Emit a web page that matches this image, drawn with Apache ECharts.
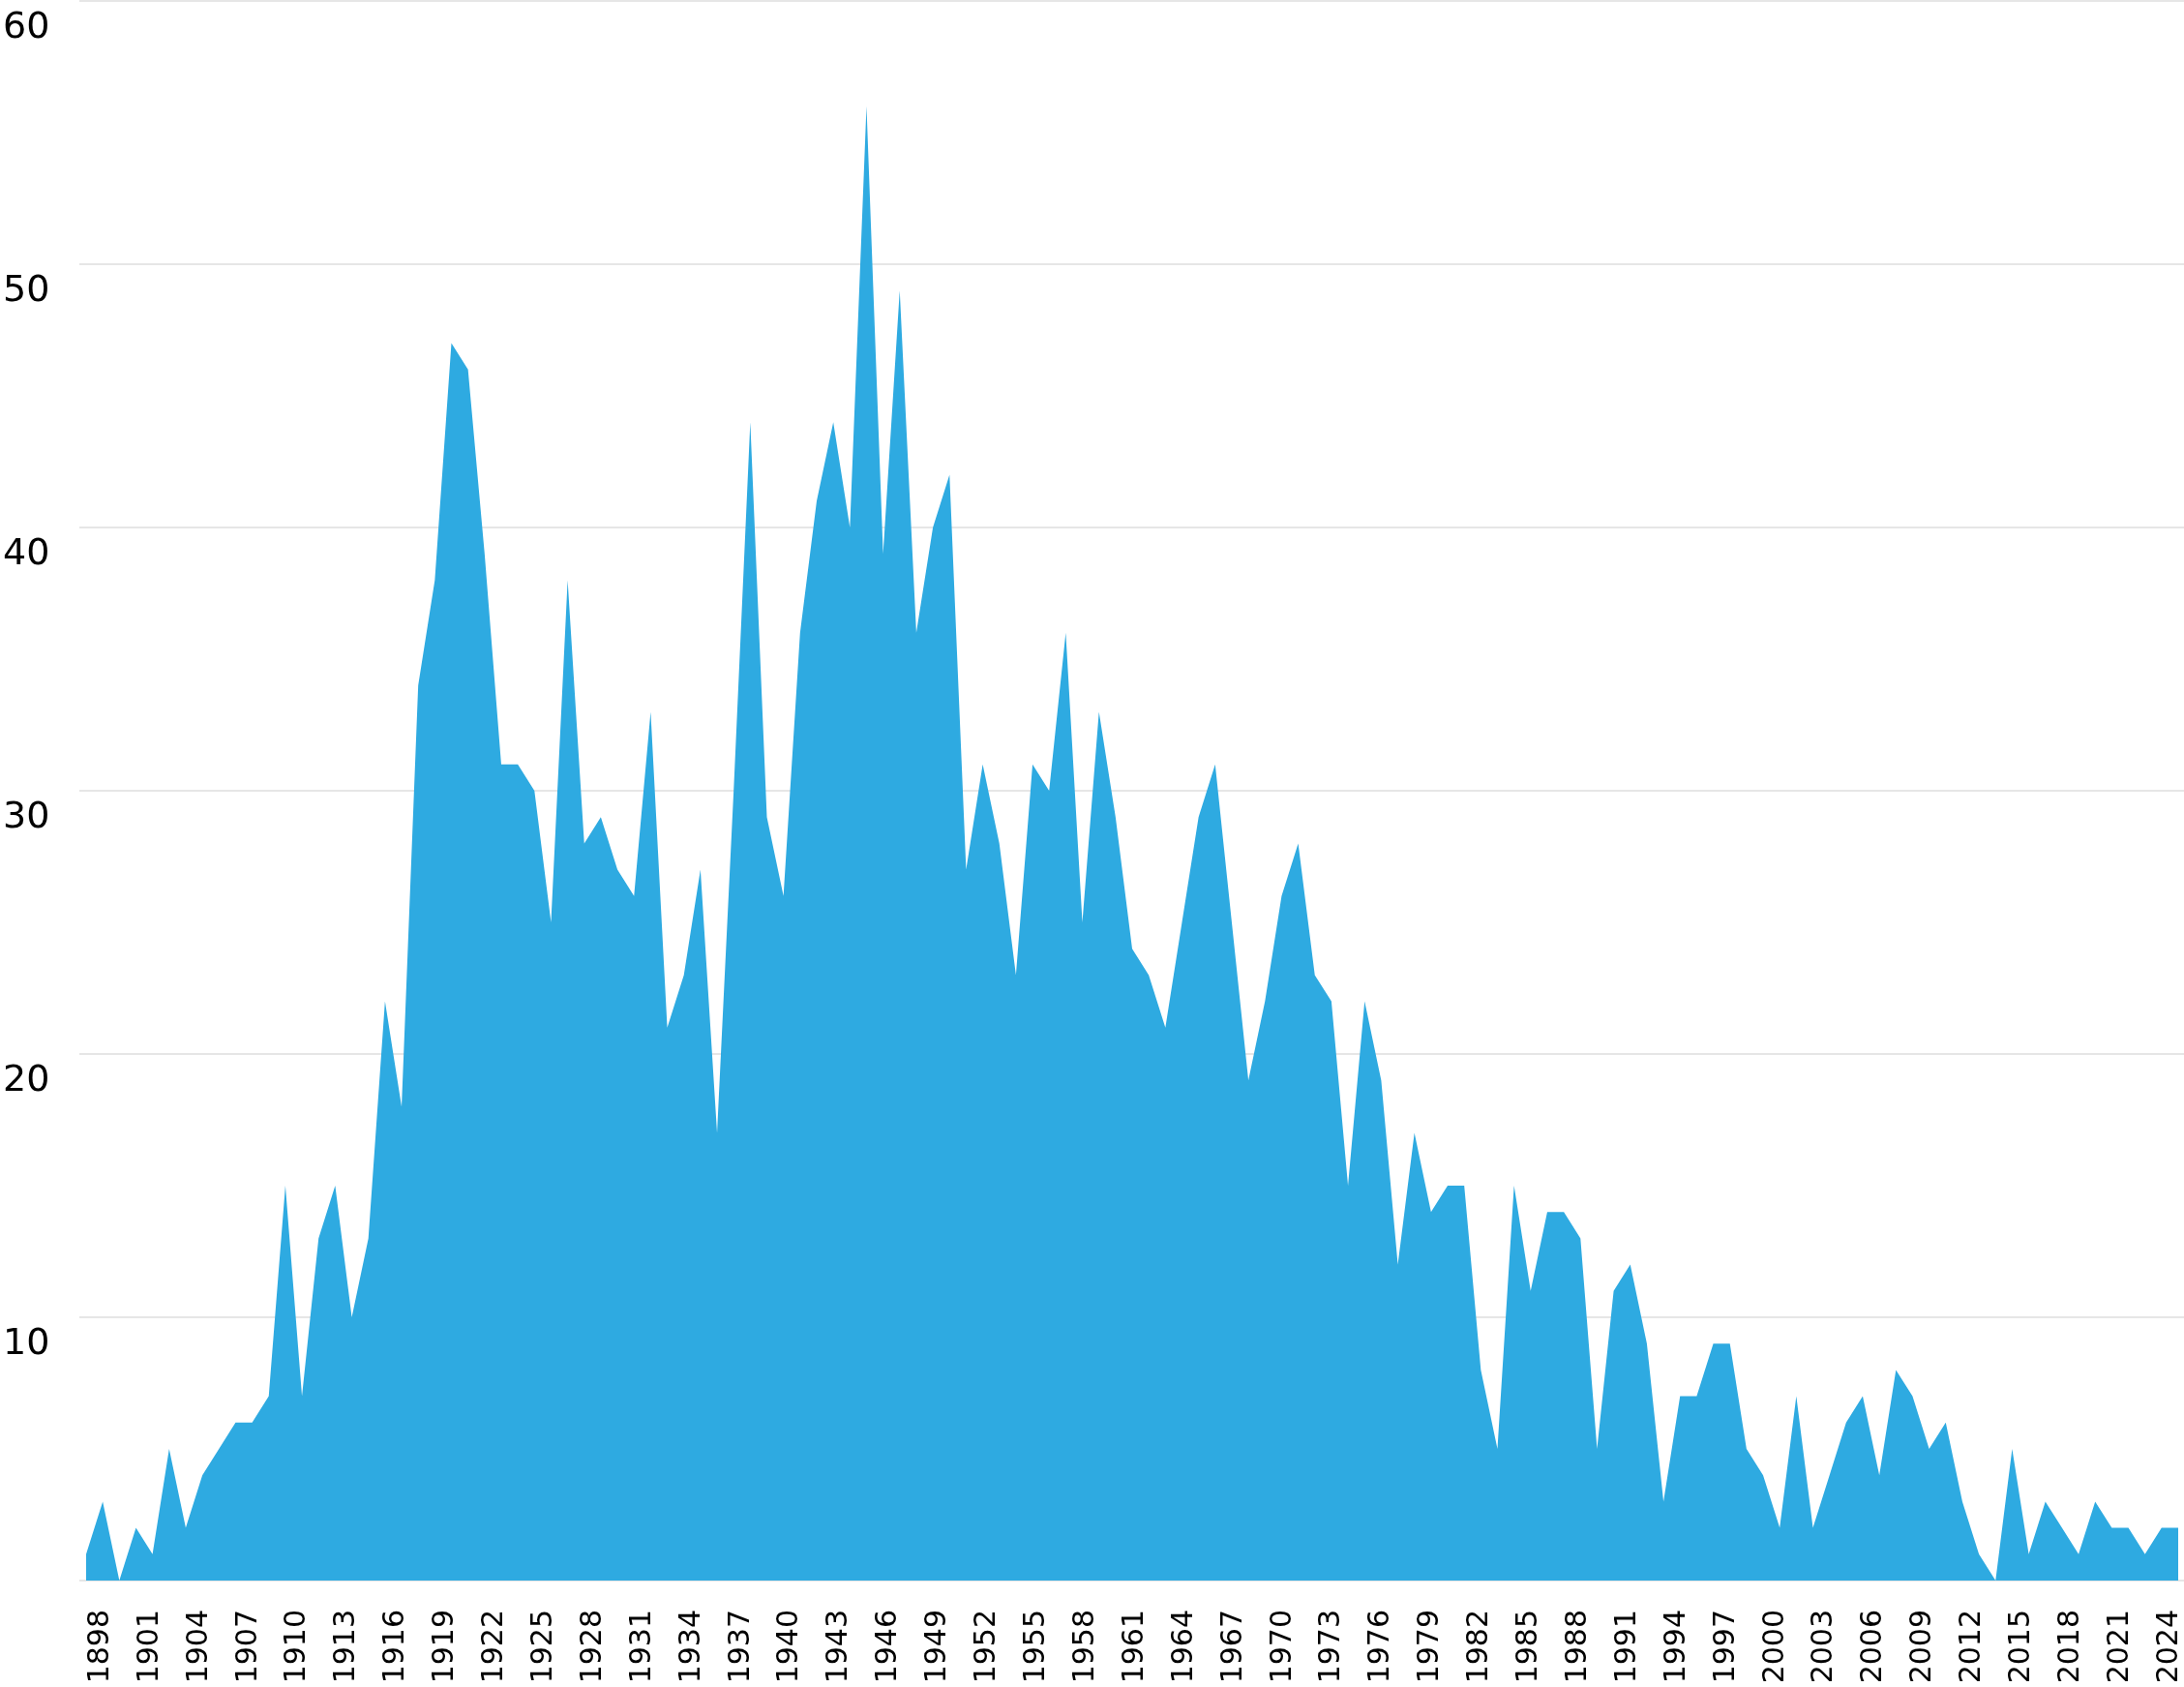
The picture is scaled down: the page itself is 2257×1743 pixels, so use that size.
<!DOCTYPE html>
<html>
<head>
<meta charset="utf-8">
<title>Area chart 1898-2024</title>
<script src="https://cdn.jsdelivr.net/npm/echarts@6/dist/echarts.min.js"></script>
<style>
    html, body { margin: 0; padding: 0; background: #ffffff; }
    #main { width: 2257px; height: 1743px; }
</style>
</head>
<body>
<div id="main"></div>
<script>
// 年份 1898 - 2024
var years = [];
for (var y = 1898; y <= 2024; y++) {
    years.push(String(y));
}

// 每年的数值
var values = [
    1, 3, 0, 2, 1, 5, 2, 4, 5, 6, 6, 7,          // 1898-1909
    15, 7, 13, 15, 10, 13, 22, 18, 34, 38,       // 1910-1919
    47, 46, 39, 31, 31, 30, 25, 38, 28, 29,      // 1920-1929
    27, 26, 33, 21, 23, 27, 17, 30, 44, 29,      // 1930-1939
    26, 36, 41, 44, 40, 56, 39, 49, 36, 40,      // 1940-1949
    42, 27, 31, 28, 23, 31, 30, 36, 25, 33,      // 1950-1959
    29, 24, 23, 21, 25, 29, 31, 25, 19, 22,      // 1960-1969
    26, 28, 23, 22, 15, 22, 19, 12, 17, 14,      // 1970-1979
    15, 15, 8, 5, 15, 11, 14, 14, 13, 5,         // 1980-1989
    11, 12, 9, 3, 7, 7, 9, 9, 5, 4,              // 1990-1999
    2, 7, 2, 4, 6, 7, 4, 8, 7, 5,                // 2000-2009
    6, 3, 1, 0, 5, 1, 3, 2, 1, 3,                // 2010-2019
    2, 2, 1, 2, 2                                // 2020-2024
];

// y轴刻度
var yMin = 0;
var yMax = 60;
var yStep = 10;

var fontName = 'DejaVu Sans';

var myChart = echarts.init(document.getElementById('main'));

var option = {
    animation: false,
    backgroundColor: '#ffffff',
    grid: [
        // 0: 面积图
        { left: 89, right: 6, top: 1, bottom: 110 },
        // 1: 网格线和y轴标签
        { left: 79, right: 0, top: 1, bottom: 110 },
        // 2: x轴标签
        { left: 104, right: 15, top: 1, bottom: 110 }
    ],
    xAxis: [
        {
            gridIndex: 0,
            type: 'category',
            data: years,
            boundaryGap: false,
            show: false
        },
        {
            gridIndex: 1,
            type: 'value',
            show: false
        },
        {
            gridIndex: 2,
            type: 'category',
            data: years,
            boundaryGap: false,
            axisLine: { show: false },
            axisTick: { show: false },
            axisLabel: {
                interval: 2,
                rotate: 90,
                margin: 30,
                color: '#000000',
                fontFamily: fontName,
                fontSize: 30
            }
        }
    ],
    yAxis: [
        {
            gridIndex: 0,
            type: 'value',
            min: yMin,
            max: yMax,
            show: false
        },
        {
            gridIndex: 1,
            type: 'value',
            min: yMin,
            max: yMax,
            interval: yStep,
            axisLine: { show: false },
            axisTick: { show: false },
            splitLine: {
                show: true,
                lineStyle: { color: '#e6e6e6', width: 2 }
            },
            axisLabel: {
                showMinLabel: false,
                align: 'left',
                verticalAlign: 'top',
                margin: 79,
                padding: [9, 0, 0, 0],
                color: '#000000',
                fontFamily: fontName,
                fontSize: 38
            }
        },
        {
            gridIndex: 2,
            type: 'value',
            min: yMin,
            max: yMax,
            show: false
        }
    ],
    series: [{
        type: 'line',
        xAxisIndex: 0,
        yAxisIndex: 0,
        data: values,
        symbol: 'none',
        lineStyle: { width: 0 },
        areaStyle: { color: '#2eaae1', opacity: 1 },
        z: 5
    }]
};

myChart.setOption(option);
</script>
</body>
</html>
